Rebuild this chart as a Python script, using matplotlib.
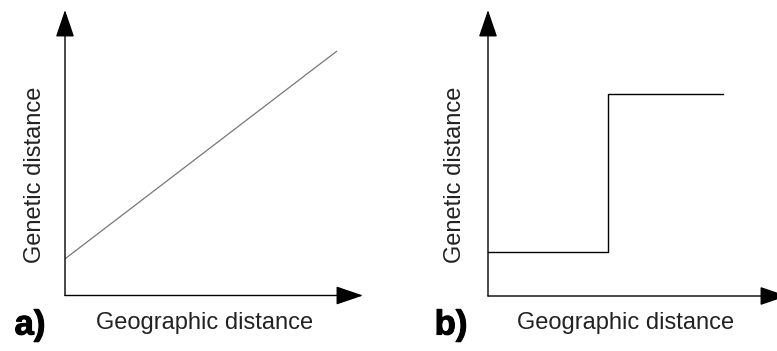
import matplotlib
matplotlib.use("Agg")
import matplotlib.pyplot as plt
import matplotlib.patheffects as pe

# ---- data ----
geo_a = [0.0, 1.0]          # panel a: linear isolation by distance
gen_a = [0.15, 1.0]
geo_b = [0.0, 0.51, 1.0]    # panel b: step (barrier)
gen_b = [0.22, 1.0, 1.0]
panel_labels = ["a)", "b)"]
xlabel = "Geographic distance"
ylabel = "Genetic distance"

W, H = 777, 351
fig = plt.figure(figsize=(W / 100, H / 100), dpi=100)
fig.patch.set_facecolor("white")

def px_axes(x0, x1, ytop, ybot):
    return fig.add_axes([x0 / W, 1 - ybot / H, (x1 - x0) / W, (ybot - ytop) / H])

text_color = "#222222"
font = "Liberation Sans"

def setup(ax, xmax, ymax):
    ax.set_xlim(0, xmax)
    ax.set_ylim(0, ymax)
    ax.axis("off")
    ax.patch.set_alpha(0)
    st = "-|>,head_length=17,head_width=5.8"
    ax.annotate("", xy=(1, 0), xytext=(0, 0), xycoords="axes fraction",
                arrowprops=dict(arrowstyle=st, color="black", lw=1.0,
                                shrinkA=0, shrinkB=0, mutation_scale=1),
                annotation_clip=False)
    ax.annotate("", xy=(0, 1), xytext=(0, 0), xycoords="axes fraction",
                arrowprops=dict(arrowstyle=st, color="black", lw=1.0,
                                shrinkA=0, shrinkB=0, mutation_scale=1),
                annotation_clip=False)

# Panel a
axa = px_axes(65, 363, 10, 295.5)
setup(axa, (363 - 65) / 272, (295.5 - 10) / 244.5)
axa.plot(geo_a, gen_a, color="#777777", lw=0.9, solid_capstyle="butt", clip_on=False)

# Panel b
axb = px_axes(488, 787, 10, 296)
setup(axb, (787 - 488) / 235, (296 - 10) / 202)
axb.step(geo_b, gen_b, where="post", color="black", lw=1.0, clip_on=False)

# Texts
def ftext(x, y, s, **kw):
    fig.text(x / W, 1 - y / H, s, **kw)

ftext(205, 323, xlabel, ha="center", va="center", fontsize=17, color=text_color, family=font)
ftext(626, 323, xlabel, ha="center", va="center", fontsize=17, color=text_color, family=font)
ftext(35, 175, ylabel, ha="center", va="center", rotation=90, fontsize=17, color=text_color, family=font)
ftext(455, 175, ylabel, ha="center", va="center", rotation=90, fontsize=17, color=text_color, family=font)
lab_fx = [pe.withStroke(linewidth=0.8, foreground="black")]
ftext(30, 325, panel_labels[0], ha="center", va="center", fontsize=25, fontweight="bold",
      color="black", family=font, path_effects=lab_fx)
ftext(451, 325, panel_labels[1], ha="center", va="center", fontsize=25, fontweight="bold",
      color="black", family=font, path_effects=lab_fx)

fig.savefig("out.png", dpi=100, facecolor="white")
